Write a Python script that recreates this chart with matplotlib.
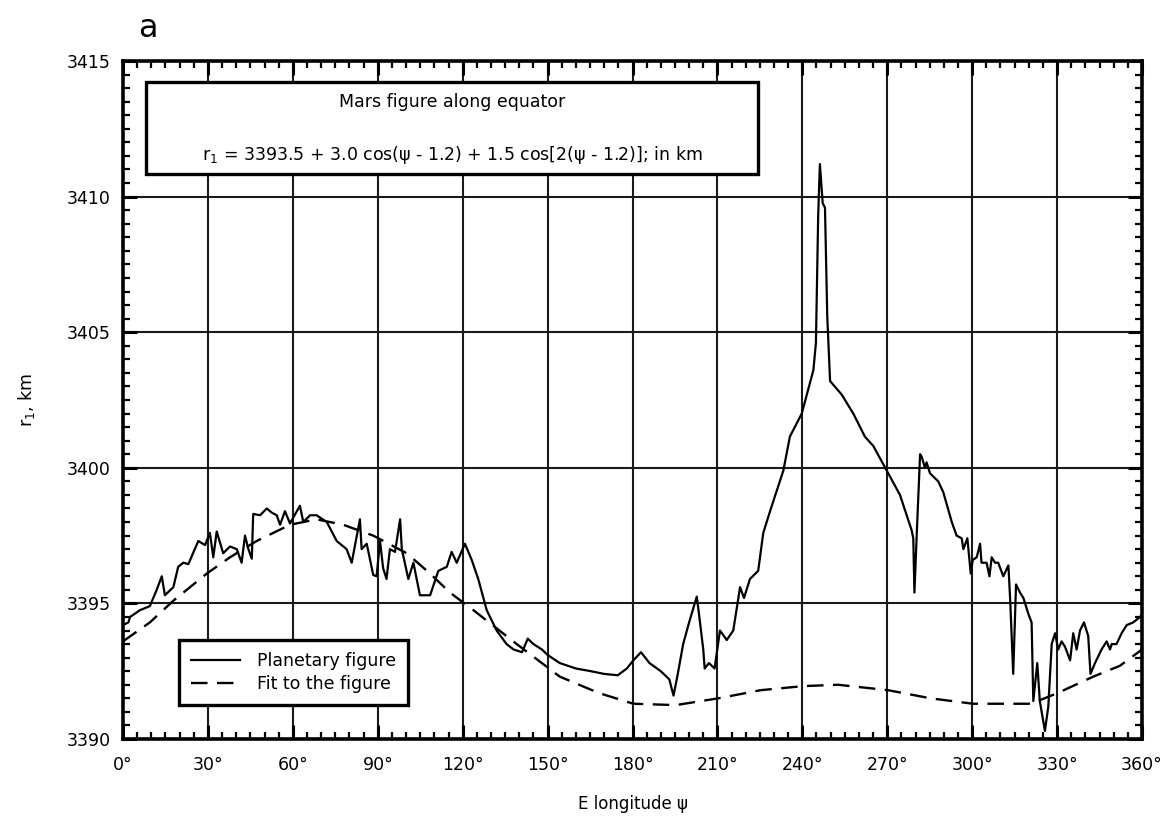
import matplotlib
matplotlib.use('Agg')
import matplotlib.pyplot as plt
from matplotlib.patches import Rectangle
from matplotlib.ticker import MultipleLocator

plt.rcParams['font.family'] = ['DejaVu Sans']
plt.rcParams['mathtext.fontset'] = 'dejavusans'

# Planetary figure along the equator (E longitude in deg, radius in km)
lon_fig = [0, 1.9, 2.5, 6.0, 9.5, 11.9, 13.7, 14.8, 17.8, 19.5, 21.3, 23.1,
           26.6, 29.0, 30.7, 31.9, 33.1, 35.4, 37.8, 40.2, 41.9, 43.1, 44.3,
           45.5, 46.0, 48.4, 50.8, 52.5, 54.3, 55.5, 57.2, 59.0, 62.5, 63.7,
           66.1, 68.4, 72.0, 75.5, 79.0, 80.8, 82.6, 83.7, 84.3, 86.1, 88.4,
           89.6, 90.8, 91.9, 93.1, 94.3, 96.1, 97.9, 98.5, 100.8, 102.6,
           104.9, 108.5, 111.4, 114.4, 116.1, 117.9, 120.8, 123.2, 125.5,
           128.5, 132.0, 135.5, 138, 141, 143, 145, 148, 150, 154.3, 160,
           165.3, 170, 174.8, 178, 180.3, 183, 186, 190, 193, 194.5, 196,
           197.9, 200, 202.7, 203.5, 205, 205.5, 207, 209, 210.9, 213.3,
           215.6, 218.0, 219.4, 221.5, 224.4, 226.2, 228.6, 233.3, 235.6,
           239.8, 243.9, 244.8, 245.6, 246.2, 247.2, 248.0, 248.8, 249.8,
           253.9, 258.0, 262.1, 265.1, 269.8, 274.5, 278.6, 279.2, 279.6,
           280.4, 281.6, 282.2, 283.3, 283.9, 285.1, 288.0, 289.8, 292.8,
           294.5, 296.3, 296.9, 298.3, 299.5, 300.2, 301.6, 302.8, 303.3,
           305.1, 306.1, 306.9, 308.1, 309.2, 311.0, 312.8, 313.4, 314.5,
           315.5, 316.9, 318.1, 319.9, 321.0, 321.6, 323.0, 323.9, 325.7,
           326.9, 328.1, 329.3, 330.4, 331.6, 332.8, 334.6, 335.7, 336.9,
           338.1, 339.5, 341.0, 341.8, 343.4, 345.7, 347.5, 348.7, 349.3,
           351.0, 352.8, 354.6, 356.9, 359.3, 360]
r_fig = [3394.2, 3394.3, 3394.5, 3394.75, 3394.9, 3395.5, 3396.0, 3395.3,
         3395.6, 3396.35, 3396.5, 3396.45, 3397.3, 3397.15, 3397.6, 3396.7,
         3397.65, 3396.85, 3397.1, 3397.0, 3396.5, 3397.5, 3397.0, 3396.65,
         3398.3, 3398.25, 3398.5, 3398.35, 3398.25, 3397.9, 3398.4, 3397.95,
         3398.6, 3398.0, 3398.25, 3398.25, 3398.0, 3397.3, 3397.0, 3396.5,
         3397.5, 3398.1, 3397.0, 3397.2, 3396.05, 3396.0, 3397.3, 3396.3,
         3395.9, 3397.0, 3396.9, 3398.1, 3397.0, 3395.9, 3396.5, 3395.3,
         3395.3, 3396.2, 3396.35, 3396.9, 3396.5, 3397.2, 3396.6, 3395.9,
         3394.75, 3394.0, 3393.5, 3393.3, 3393.2, 3393.7, 3393.5, 3393.3,
         3393.1, 3392.8, 3392.6, 3392.5, 3392.4, 3392.35, 3392.6, 3392.9,
         3393.2, 3392.8, 3392.5, 3392.2, 3391.6, 3392.4, 3393.5, 3394.3,
         3395.25, 3394.6, 3393.3, 3392.6, 3392.8, 3392.6, 3394.0, 3393.65,
         3394.0, 3395.6, 3395.2, 3395.9, 3396.2, 3397.6, 3398.4, 3399.9,
         3401.15, 3402.0, 3403.6, 3404.6, 3409.3, 3411.2, 3409.75, 3409.6,
         3405.6, 3403.2, 3402.7, 3402.0, 3401.15, 3400.8, 3399.9, 3399.0,
         3397.7, 3397.4, 3395.4, 3397.5, 3400.5, 3400.4, 3400.0, 3400.2,
         3399.8, 3399.5, 3399.1, 3398.0, 3397.5, 3397.4, 3397.0, 3397.4,
         3396.1, 3396.6, 3396.7, 3397.2, 3396.5, 3396.5, 3396.0, 3396.7,
         3396.5, 3396.5, 3396.0, 3396.4, 3395.2, 3392.4, 3395.7, 3395.4,
         3395.2, 3394.6, 3394.3, 3391.4, 3392.8, 3391.4, 3390.3, 3391.2,
         3393.5, 3393.9, 3393.3, 3393.6, 3393.4, 3392.9, 3393.9, 3393.3,
         3394.0, 3394.3, 3393.8, 3392.4, 3392.8, 3393.3, 3393.6, 3393.3,
         3393.5, 3393.5, 3393.9, 3394.2, 3394.3, 3394.5, 3394.6]

# Fit to the figure
lon_fit = [0, 9.5, 17.8, 29.6, 37.8, 47.2, 59.0, 68.4, 77.8, 88.4, 100.2,
           108.5, 115.5, 123.8, 139.1, 154.3, 168, 180.3, 195.3, 210.3,
           225.3, 240.3, 252.6, 270.3, 285.3, 300.3, 320.8, 330.3, 342.8,
           352.2, 360]
r_fit = [3393.6, 3394.3, 3395.1, 3396.1, 3396.7, 3397.3, 3397.9, 3398.1,
         3397.9, 3397.5, 3396.85, 3396.1, 3395.4, 3394.75, 3393.5, 3392.3,
         3391.7, 3391.3, 3391.25, 3391.5, 3391.8, 3391.95, 3392.0, 3391.8,
         3391.5, 3391.3, 3391.3, 3391.7, 3392.3, 3392.7, 3393.3]

x_ticks = list(range(0, 361, 30))
x_ticklabels = ['%d°' % t for t in x_ticks]
y_ticks = [3390, 3395, 3400, 3405, 3410, 3415]

fig = plt.figure(figsize=(11.65, 8.16), dpi=100)
fig.patch.set_facecolor('white')
ax = fig.add_axes([123 / 1165, 77 / 816, 1019 / 1165, 678 / 816])

ax.plot(lon_fig, r_fig, color='black', lw=1.6, ls='-',
        label='Planetary figure', zorder=3)
ax.plot(lon_fit, r_fit, color='black', lw=1.7, ls=(0, (7, 4)),
        label='Fit to the figure', zorder=3)

ax.set_xlim(0, 360)
ax.set_ylim(3390, 3415)
ax.set_xticks(x_ticks)
ax.set_xticklabels(x_ticklabels)
ax.set_yticks(y_ticks)
ax.xaxis.set_minor_locator(MultipleLocator(5))
ax.yaxis.set_minor_locator(MultipleLocator(0.5))

ax.grid(True, which='major', color='#1a1a1a', lw=1.5)
for s in ax.spines.values():
    s.set_linewidth(2.6)
ax.tick_params(which='major', direction='in', length=10, width=2.2,
               top=True, right=True, labelsize=12.5, color='black')
ax.tick_params(axis='x', which='major', pad=12)
ax.tick_params(axis='y', which='major', pad=9)
ax.tick_params(which='minor', direction='in', length=5, width=1.6,
               top=True, right=True)

ax.set_xlabel('E longitude ψ', fontsize=12)
ax.xaxis.set_label_coords(0.5, -0.082)
ax.set_ylabel('r$_1$, km', fontsize=12.5)
ax.yaxis.set_label_coords(-0.084, 0.5)

# Title box
ax.add_patch(Rectangle((0.0226, 0.833), 0.6006, 0.136, transform=ax.transAxes,
                       facecolor='white', edgecolor='black', lw=2.4, zorder=5))
ax.text(0.3229, 0.9395, 'Mars figure along equator', transform=ax.transAxes,
        ha='center', va='center', fontsize=12.5, zorder=6)
ax.text(0.3229, 0.861,
        'r$_1$ = 3393.5 + 3.0 cos(ψ - 1.2) + 1.5 cos[2(ψ - 1.2)]; in km',
        transform=ax.transAxes, ha='center', va='center', fontsize=12.5,
        zorder=6)

leg = ax.legend(loc='lower left', bbox_to_anchor=(0.055, 0.050),
                borderaxespad=0, fontsize=12.5, frameon=True, fancybox=False,
                framealpha=1, edgecolor='black', handlelength=2.8,
                handletextpad=1.0, labelspacing=0.3, borderpad=0.7)
leg.get_frame().set_linewidth(2.4)
leg.set_zorder(6)

fig.text(138 / 1165, 1 - 37 / 816, 'a', fontsize=23, ha='left', va='baseline')

fig.savefig('out.png', dpi=100)
